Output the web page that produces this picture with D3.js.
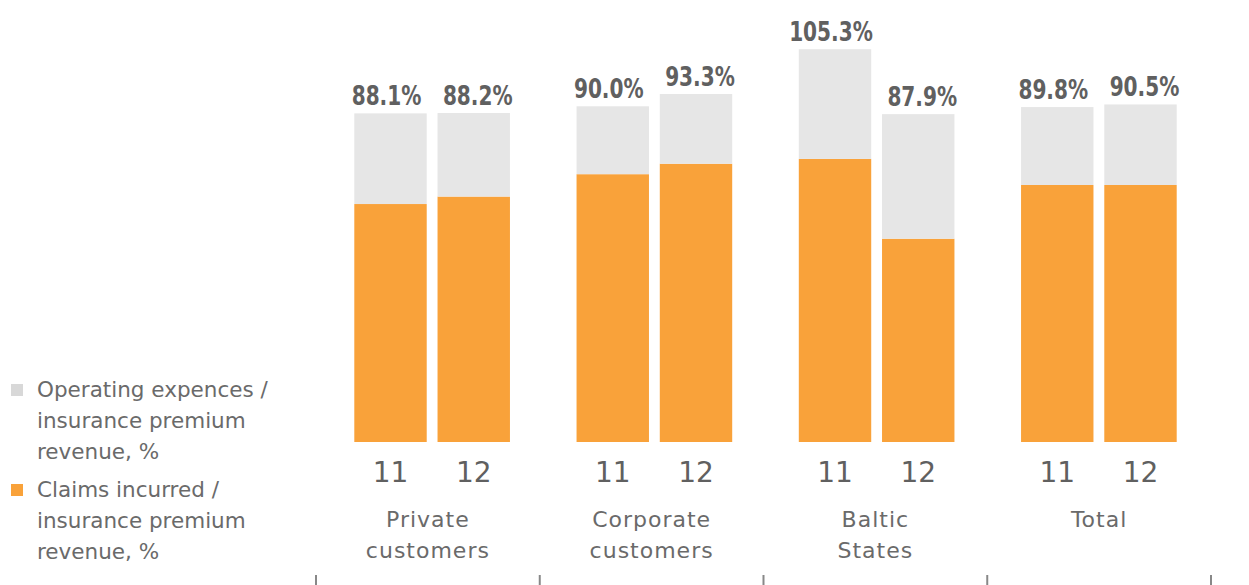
<!DOCTYPE html>
<html>
<head>
<meta charset="utf-8">
<script src="https://cdn.jsdelivr.net/npm/d3@7"></script>
<style>
  html, body { margin: 0; padding: 0; background: #fff; }
  svg { display: block; }
</style>
</head>
<body>
<svg id="chart" width="1249" height="585"></svg>
<script>
// ---- data ----
const categories = ["Private customers", "Corporate customers", "Baltic States", "Total"];
const categoryLines = [["Private", "customers"], ["Corporate", "customers"], ["Baltic", "States"], ["Total"]];
const years = ["11", "12"];
const claims11 = [63.8, 71.8, 75.9, 68.9];
const claims12 = [65.8, 74.6, 54.5, 68.9];
const operating11 = [24.3, 18.2, 29.4, 20.9];
const operating12 = [22.4, 18.7, 33.4, 21.6];
const combinedLabels11 = ["88.1%", "90.0%", "105.3%", "89.8%"];
const combinedLabels12 = ["88.2%", "93.3%", "87.9%", "90.5%"];
const seriesKeys = ["claims", "operating"];
const legendItems = [
  { key: "operating", lines: ["Operating expences /", "insurance premium", "revenue, %"] },
  { key: "claims", lines: ["Claims incurred /", "insurance premium", "revenue, %"] }
];

(function () {
// ---- table built from arrays ----
const rows = [];
categories.forEach((c, i) => {
  rows.push({ cat: c, year: "11", claims: claims11[i], operating: operating11[i], label: combinedLabels11[i] });
  rows.push({ cat: c, year: "12", claims: claims12[i], operating: operating12[i], label: combinedLabels12[i] });
});

const colors = { claims: "#F9A23A", operating: "#E6E6E6" };

const svg = d3.select("#chart");

const x0 = d3.scaleBand().domain(categories).range([321, 1210]);
const xTick = d3.scaleBand().domain(categories).range([316, 1211]);
const x1 = d3.scaleBand().domain(years).range([0, x0.bandwidth()]).paddingInner(0.13).paddingOuter(0.4);
const y = d3.scaleLinear().domain([0, 110]).range([442, 31.7]);

const stacked = d3.stack().keys(seriesKeys)(rows);

svg.append("g").selectAll("g.series")
  .data(stacked)
  .join("g")
  .attr("class", "series")
  .attr("fill", d => colors[d.key])
  .selectAll("rect")
  .data(d => d)
  .join("rect")
  .attr("x", d => x0(d.data.cat) + x1(d.data.year))
  .attr("width", x1.bandwidth())
  .attr("y", d => y(d[1]))
  .attr("height", d => y(d[0]) - y(d[1]));

// value labels (condensed horizontally like the reference)
const topLayer = stacked[stacked.length - 1];
svg.append("g").selectAll("text")
  .data(topLayer)
  .join("text")
  .attr("transform", d => {
    const cx = x0(d.data.cat) + x1(d.data.year) + x1.bandwidth() / 2 + (d.data.year === "11" ? -4 : 4);
    return `translate(${cx},${y(d[1]) - 8}) scale(0.86,1)`;
  })
  .attr("text-anchor", "middle")
  .attr("font-family", "'DejaVu Sans Condensed', 'DejaVu Sans', sans-serif")
  .attr("font-weight", "bold")
  .attr("font-size", 26)
  .attr("fill", "#606060")
  .text(d => d.data.label);

// year labels
svg.append("g").selectAll("text")
  .data(rows)
  .join("text")
  .attr("x", d => x0(d.cat) + x1(d.year) + x1.bandwidth() / 2)
  .attr("y", 482)
  .attr("text-anchor", "middle")
  .attr("font-family", "'DejaVu Sans', sans-serif")
  .attr("font-size", 28)
  .attr("fill", "#606060")
  .text(d => d.year);

// category labels
const gCat = svg.append("g");
categories.forEach((c, i) => {
  const cx = xTick(c) + xTick.bandwidth() / 2;
  const t = gCat.append("text")
    .attr("x", cx)
    .attr("y", 527)
    .attr("text-anchor", "middle")
    .attr("font-family", "'DejaVu Sans', sans-serif")
    .attr("font-size", 22)
    .attr("letter-spacing", 1)
    .attr("fill", "#6a6a6a");
  categoryLines[i].forEach((ln, j) => {
    t.append("tspan").attr("x", cx).attr("dy", j === 0 ? 0 : 31).text(ln);
  });
});

// bottom tick marks at group boundaries
const tickXs = categories.map(c => xTick(c)).concat([xTick.range()[1]]);
svg.append("g").selectAll("line")
  .data(tickXs)
  .join("line")
  .attr("x1", d => d).attr("x2", d => d)
  .attr("y1", 575).attr("y2", 585)
  .attr("stroke", "#888").attr("stroke-width", 2);

// legend
const gLeg = svg.append("g");
const legStarts = [397, 497];
legendItems.forEach((item, i) => {
  gLeg.append("rect")
    .attr("x", 11).attr("y", legStarts[i] - 13)
    .attr("width", 12).attr("height", 12)
    .attr("fill", item.key === "operating" ? "#D8D8D8" : colors.claims);
  const t = gLeg.append("text")
    .attr("x", 37).attr("y", legStarts[i])
    .attr("font-family", "'DejaVu Sans', sans-serif")
    .attr("font-size", 21.5)
    .attr("fill", "#6a6a6a");
  item.lines.forEach((ln, j) => {
    t.append("tspan").attr("x", 37).attr("dy", j === 0 ? 0 : 31).text(ln);
  });
});
})();
</script>
</body>
</html>
